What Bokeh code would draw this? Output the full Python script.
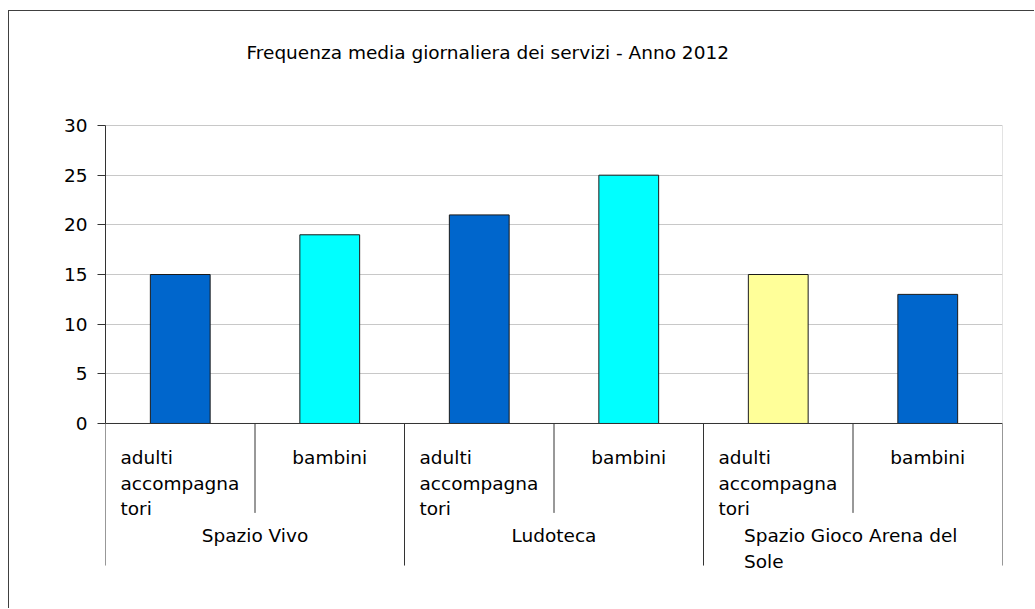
from bokeh.plotting import figure
from bokeh.models import FactorRange, Range1d, FixedTicker, ColumnDataSource, Label
from bokeh.embed import file_html
from bokeh.resources import INLINE
from bokeh.core.properties import value

# ---- data ----
groups = ["Spazio Vivo", "Ludoteca", "Spazio Gioco Arena del Sole"]
subcats = ["adulti accompagnatori", "bambini"]
values = [15, 19, 21, 25, 15, 13]
bar_colors = ["#0066cc", "#00ffff", "#0066cc", "#00ffff", "#ffff99", "#0066cc"]
sub_labels = ["adulti\naccompagna\ntori", "bambini"]
group_labels = ["Spazio Vivo", "Ludoteca", "Spazio Gioco Arena del\nSole"]
y_ticks = [0, 5, 10, 15, 20, 25, 30]
title_text = "Frequenza media giornaliera dei servizi - Anno 2012"

# ---- styles ----
FONT = "DejaVu Sans"
FS = "18.5px"
DARK = "#333333"
GRID = "#c8c8c8"
SHORT_DIV = -9.0
LONG_DIV = -14.3
Y_MAX = y_ticks[-1]

factors = [(g, s) for g in groups for s in subcats]

p = figure(
    width=1026, height=598,
    x_range=FactorRange(*factors, range_padding=0, group_padding=0, factor_padding=0),
    y_range=Range1d(-14.8, 41.48),
    x_axis_location=None,
    output_backend="svg", toolbar_location=None,
    min_border_left=96, min_border_right=33, min_border_top=0, min_border_bottom=39,
)
p.styles = {"border-left": "1px solid #404040", "border-top": "1px solid #404040",
            "margin-top": "10px", "margin-left": "8px"}
p.outline_line_color = None
p.background_fill_color = "white"
p.border_fill_color = "white"

# title (placed relative to the plot frame, in screen pixels)
p.add_layout(Label(x=141, y=518, x_units="screen", y_units="screen", text=title_text,
                   text_align="left", text_baseline="middle", text_font=FONT,
                   text_font_size=FS, text_color="black"))

# y axis
ax = p.yaxis[0]
ax.ticker = FixedTicker(ticks=y_ticks)
ax.bounds = (0, Y_MAX)
ax.major_tick_out = 8
ax.major_tick_in = 0
ax.minor_tick_line_color = None
ax.axis_line_color = DARK
ax.major_tick_line_color = DARK
ax.major_label_text_font = FONT
ax.major_label_text_font_size = FS
ax.major_label_text_color = "black"
ax.major_label_standoff = 10

for g in p.ygrid:
    g.ticker = FixedTicker(ticks=y_ticks)
    g.bounds = (0, Y_MAX)
    g.grid_line_color = GRID
for g in p.xgrid:
    g.visible = False

left_end = (groups[0], subcats[0], -0.5)
right_end = (groups[-1], subcats[-1], 0.5)

# right border of plot area (grey)
p.segment(x0=[right_end], y0=[0], x1=[right_end], y1=[Y_MAX], line_color=GRID, line_width=1)

# bars
src = ColumnDataSource(dict(x=factors, top=values, color=bar_colors))
p.vbar(x="x", top="top", bottom=0, width=0.4, fill_color="color", line_color="#1a1a1a",
       line_width=1, source=src)

# baseline (x axis line)
p.segment(x0=[left_end], y0=[0], x1=[right_end], y1=[0], line_color=DARK, line_width=1)

# divider lines of the category axis
short_x = [(g, subcats[0], 0.5) for g in groups]
long_x = [(g, subcats[0], -0.5) for g in groups] + [right_end]
p.segment(x0="x", y0=0, x1="x", y1=SHORT_DIV, source=ColumnDataSource(dict(x=short_x)),
          line_color=DARK, line_width=1)
p.segment(x0="x", y0=0, x1="x", y1=LONG_DIV, source=ColumnDataSource(dict(x=long_x)),
          line_color=DARK, line_width=1)

# sub-category labels
adu = ColumnDataSource(dict(x=[(g, subcats[0], -0.4) for g in groups],
                            y=[0] * len(groups), t=[sub_labels[0]] * len(groups)))
p.text(x="x", y="y", text="t", source=adu, text_align="left", text_baseline="top",
       y_offset=24, text_font=value(FONT), text_font_size=FS, text_color="black",
       text_line_height=1.2)
bam = ColumnDataSource(dict(x=[(g, subcats[1]) for g in groups],
                            y=[0] * len(groups), t=[sub_labels[1]] * len(groups)))
p.text(x="x", y="y", text="t", source=bam, text_align="center", text_baseline="top",
       y_offset=24, text_font=value(FONT), text_font_size=FS, text_color="black")

# group labels
single = [(g, l) for g, l in zip(groups, group_labels) if "\n" not in l]
multi = [(g, l) for g, l in zip(groups, group_labels) if "\n" in l]
gs = ColumnDataSource(dict(x=[(g, subcats[0], 0.5) for g, _ in single],
                           y=[0] * len(single), t=[l for _, l in single]))
p.text(x="x", y="y", text="t", source=gs, text_align="center", text_baseline="top",
       y_offset=102, text_font=value(FONT), text_font_size=FS, text_color="black")
gm = ColumnDataSource(dict(x=[(g, subcats[0], 0.5) for g, _ in multi],
                           y=[0] * len(multi), t=[l for _, l in multi]))
p.text(x="x", y="y", text="t", source=gm, text_align="left", text_baseline="top",
       y_offset=102, x_offset=-109, text_font=value(FONT), text_font_size=FS,
       text_color="black", text_line_height=1.2)

open("out.html", "w").write(file_html(p, INLINE))
